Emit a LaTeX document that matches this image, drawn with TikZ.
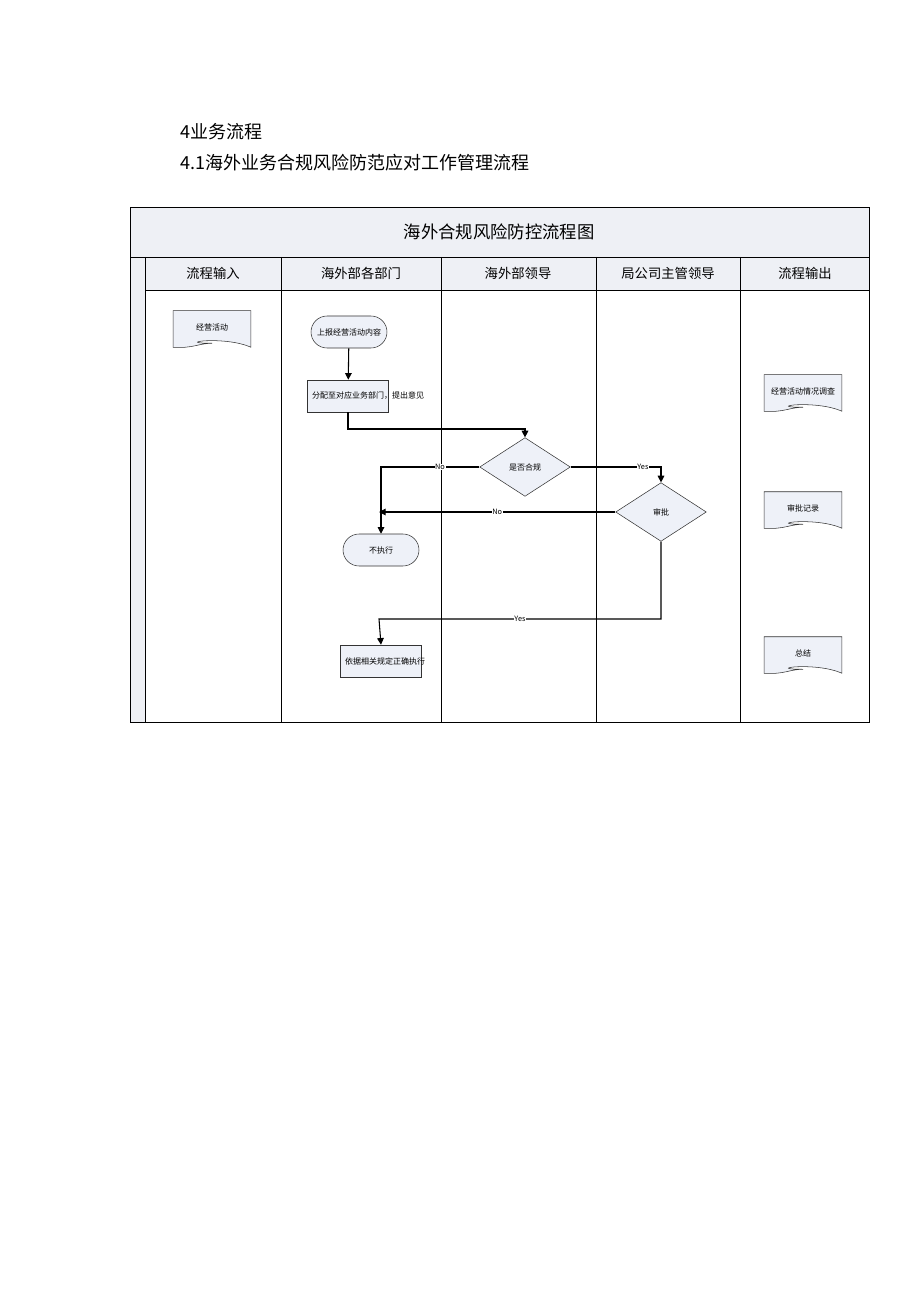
\documentclass[tikz,border=0pt]{standalone}
\usepackage{fontspec}
\setmainfont{Noto Sans CJK SC}
\usetikzlibrary{shapes.geometric,arrows.meta}
\definecolor{bandfill}{HTML}{EEF0F5}
\definecolor{nodefill}{HTML}{EEF1F8}
\tikzset{
  flow/.style={draw=black!80,fill=nodefill,font=\fontsize{6}{7.5}\selectfont,align=center},
  termbox/.style={flow,rounded corners=12,minimum width=57,minimum height=24},
  procbox/.style={flow,minimum width=58,minimum height=24,text width=54},
  decision/.style={flow,diamond,aspect=1.55,minimum width=68,minimum height=44,inner sep=0},
  docbox/.style={font=\fontsize{6}{7.5}\selectfont,minimum width=58,minimum height=24},
  link/.style={draw,thick,-{Triangle[length=5,width=5]}},
  tag/.style={font=\fontsize{5.5}{6}\selectfont,fill=white,inner sep=0.5},
  lanehead/.style={font=\fontsize{10}{12}\selectfont},
}
\newcommand{\docwave}[1]{%
  \draw[black!80,fill=nodefill] (#1.north west) -- (#1.north east) -- ([yshift=-3]#1.south east)
    .. controls ([xshift=-20,yshift=6]#1.south east) and ([xshift=-30]#1.south) .. (#1.south)
    .. controls ([xshift=-10]#1.south) and ([xshift=15,yshift=-4]#1.south west) .. ([yshift=-3]#1.south west) -- cycle;
  \node[docbox] at (#1) {\csname doc#1\endcsname};}
\begin{document}
\begin{tikzpicture}[x=0.75pt,y=-0.75pt]
  \useasboundingbox (0,0) rectangle (920,1301);
  % heading text
  \node[anchor=west,font=\fontsize{13.5}{16}\selectfont] (h1) at (176,132) {4业务流程};
  \node[anchor=west,font=\fontsize{13.5}{16}\selectfont] (h2) at (176,163) {4.1海外业务合规风险防范应对工作管理流程};
  % frame and lanes
  \fill[bandfill] (130,207) rectangle (869,290);
  \fill[bandfill] (130,290) rectangle (145,722);
  \draw (130,207) rectangle (869,722);
  \draw (130,257) -- (869,257);
  \draw (145,290) -- (869,290);
  \foreach \x in {145,281,441,596,740} \draw (\x,257) -- (\x,722);
  \node[font=\fontsize{13}{15}\selectfont] (title) at (499,232) {海外合规风险防控流程图};
  \node[lanehead] (l1) at (213,273) {流程输入};
  \node[lanehead] (l2) at (361,273) {海外部各部门};
  \node[lanehead] (l3) at (518,273) {海外部领导};
  \node[lanehead] (l4) at (668,273) {局公司主管领导};
  \node[lanehead] (l5) at (805,273) {流程输出};
  % documents
  \coordinate (dA) at (212,329);
  \node[docbox] (dA) at (212,327) {};
  \expandafter\def\csname docdA\endcsname{经营活动}\docwave{dA}
  \node[docbox] (dB) at (803,391) {};
  \expandafter\def\csname docdB\endcsname{经营活动情况调查}\docwave{dB}
  \node[docbox] (dC) at (803,508) {};
  \expandafter\def\csname docdC\endcsname{审批记录}\docwave{dC}
  \node[docbox] (dD) at (803,653) {};
  \expandafter\def\csname docdD\endcsname{总结}\docwave{dD}
  % flow nodes
  \node[termbox] (report) at (349,332) {上报经营活动内容};
  \node[procbox] (assign) at (348,396) {分配至对应业务部门，提出意见};
  \node[decision] (check) at (525,467) {是否合规};
  \node[decision] (approve) at (661,512) {审批};
  \node[termbox] (stop) at (381,550) {不执行};
  \node[procbox] (execute) at (381,661) {依据相关规定正确执行};
  \coordinate (nojoin) at (379,512);
  % connectors
  \draw[link] (report) -- (assign);
  \draw[link] (assign.south) |- (525,429) -- (check.north);
  \draw[link] (check.west) -| node[tag,pos=0.2] {No} (stop.north);
  \draw[link] (check.east) -| node[tag,pos=0.4] {Yes} (approve.north);
  \draw[link] (approve.west) -- node[tag] {No} (nojoin);
  \draw[link] (approve.south) |- (379,619) node[tag,pos=0.75] {Yes} -- (execute.north);
\end{tikzpicture}
\end{document}
